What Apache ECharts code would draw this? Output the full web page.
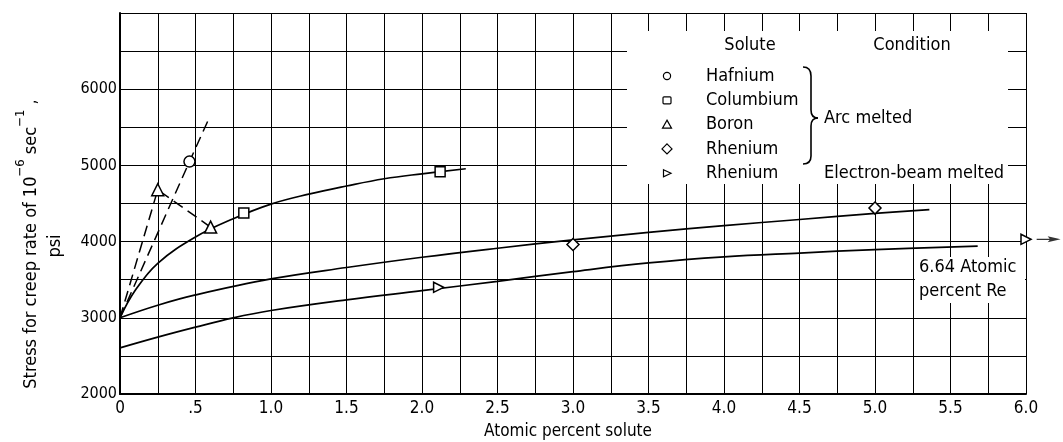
<!DOCTYPE html>
<html>
<head>
<meta charset="utf-8">
<script src="https://cdn.jsdelivr.net/npm/echarts@6/dist/echarts.min.js"></script>
<style>
html,body{margin:0;padding:0;background:#fff;}
#chart{width:1063px;height:442px;}
</style>
</head>
<body>
<div id="chart"></div>
<script>
// ---- data ----
const xTickLabels = ['0', '.5', '1.0', '1.5', '2.0', '2.5', '3.0', '3.5', '4.0', '4.5', '5.0', '5.5', '6.0'];
const yTickLabels = ['2000', '3000', '4000', '5000', '6000'];

// measured points
const hafniumPts = [[0.46, 5050]];
const columbiumPts = [[0.82, 4375], [2.12, 4917]];
const boronPts = [[0.25, 4680], [0.6, 4190]];
const rheniumArcPts = [[3.0, 3962], [5.0, 4440]];
const rheniumEBPts = [[2.11, 3400], [6.0, 4030]];

// fitted curves
const columbiumCurve = [[0, 3000], [0.1, 3357], [0.25, 3715], [0.5, 4060], [0.75, 4300], [1.0, 4492], [1.25, 4623], [1.5, 4730], [1.75, 4825], [2.0, 4890], [2.29, 4956]];
const rheniumArcCurve = [[0, 3000], [0.25, 3165], [0.5, 3300], [1.0, 3510], [1.5, 3660], [2.0, 3795], [2.5, 3913], [3.0, 4022], [3.5, 4120], [4.0, 4210], [4.5, 4290], [5.0, 4370], [5.36, 4420]];
const rheniumEBCurve = [[0, 2605], [0.25, 2746], [0.5, 2877], [0.75, 3000], [1.0, 3096], [1.5, 3236], [2.0, 3357], [2.5, 3479], [3.0, 3606], [3.5, 3720], [4.0, 3800], [4.5, 3850], [5.0, 3895], [5.68, 3940]];
const hafniumDash = [[0, 3000], [0.46, 5050], [0.59, 5620]];
const boronDash = [[0, 3000], [0.25, 4680], [0.6, 4190]];
const arrowPos = [[6.15, 4030]];

const legendNames = ['Hafnium', 'Columbium', 'Boron', 'Rhenium', 'Rhenium'];
const legendSymbols = ['circle', 'square', 'triangle', 'diamond', 'rtriangle'];

// ---- chart ----
const FONT = "'DejaVu Sans Condensed', 'Liberation Sans Narrow', 'DejaVu Sans', sans-serif";
const chart = echarts.init(document.getElementById('chart'), null, {renderer: 'canvas'});

const solid = (data) => ({
  type: 'line', data, smooth: 0.4, showSymbol: false, symbol: 'none',
  lineStyle: {color: '#000', width: 1.7}, z: 3, silent: true
});
const dashed = (data) => ({
  type: 'line', data, smooth: false, showSymbol: false, symbol: 'none',
  lineStyle: {color: '#000', width: 1.5, type: [11, 6]}, z: 3, silent: true
});
const marker = (data, symbol, size, rot) => ({
  type: 'scatter', data, symbol, symbolSize: size, symbolRotate: rot || 0, clip: false,
  itemStyle: {color: '#fff', borderColor: '#000', borderWidth: 1.5, opacity: 1}, z: 5, silent: true
});

// legend graphics
const lx = 667, ly0 = 76, rowH = 24.3;
const legendGraphics = [];
legendGraphics.push({type: 'rect', shape: {x: 627, y: 31, width: 381, height: 153}, style: {fill: '#fff'}, z: 50});
legendGraphics.push({type: 'rect', shape: {x: 915, y: 257, width: 110, height: 46}, style: {fill: '#fff'}, z: 50});
const tStyle = (text, x, y, align, size) => ({
  type: 'text', x, y, z: 60,
  style: {text, fill: '#000', font: (size || 18) + 'px ' + FONT, align: align || 'left', verticalAlign: 'middle'}
});
legendGraphics.push(tStyle('Solute', 750, 45, 'center'));
legendGraphics.push(tStyle('Condition', 912, 45, 'center'));
legendNames.forEach((n, i) => {
  const y = ly0 + i * rowH;
  legendGraphics.push(tStyle(n, 706, y, 'left'));
  const sym = legendSymbols[i];
  const st = {fill: '#fff', stroke: '#000', lineWidth: 1.2};
  if (sym === 'circle') legendGraphics.push({type: 'circle', shape: {cx: lx, cy: y, r: 3.6}, style: st, z: 60});
  else if (sym === 'square') legendGraphics.push({type: 'rect', shape: {x: lx - 4, y: y - 3.5, width: 8, height: 7, r: 1}, style: st, z: 60});
  else if (sym === 'triangle') legendGraphics.push({type: 'polygon', shape: {points: [[lx, y - 4.5], [lx + 4.5, y + 3.5], [lx - 4.5, y + 3.5]]}, style: st, z: 60});
  else if (sym === 'diamond') legendGraphics.push({type: 'polygon', shape: {points: [[lx, y - 5], [lx + 5, y], [lx, y + 5], [lx - 5, y]]}, style: st, z: 60});
  else legendGraphics.push({type: 'polygon', shape: {points: [[lx - 3.5, y - 3.5], [lx + 4, y], [lx - 3.5, y + 3.5]]}, style: st, z: 60});
});
// brace
const braceStyle = {fill: 'none', stroke: '#000', lineWidth: 1.6};
[
  {x1: 803, y1: 67, cpx1: 811, cpy1: 67, x2: 811, y2: 76},
  {x1: 811, y1: 110, cpx1: 811, cpy1: 118, x2: 818, y2: 118},
  {x1: 818, y1: 118, cpx1: 811, cpy1: 118, x2: 811, y2: 126},
  {x1: 811, y1: 156, cpx1: 811, cpy1: 164, x2: 803, y2: 164}
].forEach(s => legendGraphics.push({type: 'bezierCurve', shape: s, style: braceStyle, z: 60}));
legendGraphics.push({type: 'line', shape: {x1: 811, y1: 76, x2: 811, y2: 110}, style: braceStyle, z: 60});
legendGraphics.push({type: 'line', shape: {x1: 811, y1: 126, x2: 811, y2: 156}, style: braceStyle, z: 60});

legendGraphics.push(tStyle('Arc melted', 824, 118, 'left'));
legendGraphics.push(tStyle('Electron-beam melted', 824, 173, 'left'));
legendGraphics.push(tStyle('6.64 Atomic', 919, 267, 'left'));
legendGraphics.push(tStyle('percent Re', 919, 291, 'left'));
// axis names
legendGraphics.push({
  type: 'text', x: 27, y: 244, rotation: Math.PI / 2, z: 60,
  style: {
    text: '{a|Stress for creep rate of 10}{s|−6}{a| sec}{s|−1}{a| ,}',
    align: 'center', verticalAlign: 'middle', fill: '#000',
    rich: {
      a: {fontSize: 18, fontFamily: FONT, fill: '#000', verticalAlign: 'bottom', lineHeight: 26},
      s: {fontSize: 13, fontFamily: FONT, fill: '#000', verticalAlign: 'top', lineHeight: 26}
    }
  }
});
legendGraphics.push({
  type: 'text', x: 55, y: 246, rotation: Math.PI / 2, z: 60,
  style: {text: 'psi', font: '18px ' + FONT, fill: '#000', align: 'center', verticalAlign: 'middle'}
});
legendGraphics.push(tStyle('Atomic percent solute', 568, 432, 'center', 17));

const option = {
  animation: false,
  backgroundColor: '#fff',
  grid: {left: 120, right: 37, top: 13, bottom: 48, containLabel: false},
  xAxis: {
    type: 'value', min: 0, max: 6, interval: 0.25,
    axisLine: {show: true, onZero: false, lineStyle: {color: '#000', width: 2}},
    axisTick: {show: false},
    splitLine: {show: true, lineStyle: {color: '#000', width: 1}},
    axisLabel: {
      color: '#000', fontSize: 17, fontFamily: FONT, margin: 6,
      formatter: (v) => { const i = Math.round(v / 0.5); return Math.abs(v - i * 0.5) < 1e-6 ? xTickLabels[i] : ''; }
    }
  },
  yAxis: {
    type: 'value', min: 2000, max: 7000, interval: 500,
    axisLine: {show: true, onZero: false, lineStyle: {color: '#000', width: 2}},
    axisTick: {show: false},
    splitLine: {show: true, lineStyle: {color: '#000', width: 1}},
    axisLabel: {
      color: '#000', fontSize: 16, fontFamily: FONT, margin: 3,
      formatter: (v) => { const i = Math.round((v - 2000) / 1000); return (Math.abs(v - 2000 - i * 1000) < 1e-6 && i < yTickLabels.length) ? yTickLabels[i] : ''; }
    }
  },
  graphic: {elements: legendGraphics},
  series: [
    solid(columbiumCurve),
    solid(rheniumArcCurve),
    solid(rheniumEBCurve),
    dashed(hafniumDash),
    dashed(boronDash),
    {
      type: 'scatter', data: arrowPos, clip: false, silent: true, z: 4,
      symbol: 'path://M0,2.4 L13,2.4 L11,0 L24,3 L11,6 L13,3.6 L0,3.6 Z',
      symbolSize: [24, 6], symbolKeepAspect: false,
      itemStyle: {color: '#000', borderWidth: 0}
    },
    marker(hafniumPts, 'circle', 11),
    marker(columbiumPts, 'rect', 10),
    marker(boronPts, 'triangle', 12),
    marker(rheniumArcPts, 'diamond', 12),
    marker(rheniumEBPts, 'triangle', 10, -90)
  ]
};
chart.setOption(option);
</script>
</body>
</html>
